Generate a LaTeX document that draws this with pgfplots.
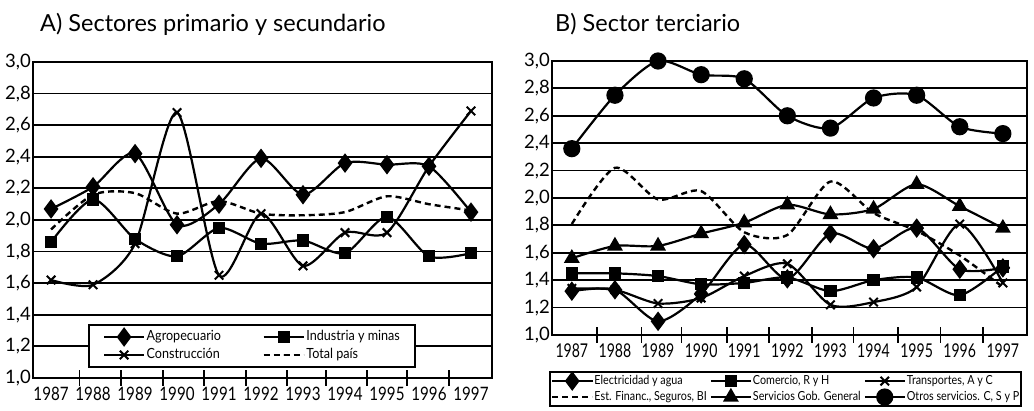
\documentclass[border=0pt]{standalone}
\usepackage{fontspec}
\setmainfont{Lato}
\newfontfamily\yearfont[FakeStretch=0.82]{Lato}
\newfontfamily\yearfontB[FakeStretch=0.74]{Lato}
\newfontfamily\legfont[FakeStretch=0.9]{Lato}
\newfontfamily\legfontB[FakeStretch=0.86]{Lato}
\usepackage{pgfplots}
\pgfplotsset{compat=1.18}
\pgfplotsset{
  legend image code/.code={\draw[mark repeat=2,mark phase=2,#1] plot coordinates {(0pt,0pt) (20pt,0pt) (40pt,0pt)};},
  panel/.style={
    scale only axis, anchor=south west, clip=false,
    axis line style={line width=1.8pt},
    ymin=1, ymax=3,
    ytick={1,1.2,1.4,1.6,1.8,2,2.2,2.4,2.6,2.8,3},
    yticklabels={{1,0},{1,2},{1,4},{1,6},{1,8},{2,0},{2,2},{2,4},{2,6},{2,8},{3,0}},
    yticklabel style={font=\fontsize{18.5}{18.5}\selectfont, inner sep=2pt},
    xtick={1987,...,1997},
    xticklabels={1987,1988,1989,1990,1991,1992,1993,1994,1995,1996,1997},
    xtick pos=bottom, ytick pos=left,
    major tick length=0pt, minor tick length=16pt, tick align=center,
    tick style={line width=1.5pt, black},
    ymajorgrids, major grid style={line width=1.8pt, black},
    every axis plot/.append style={line width=2.2pt, black, smooth, tension=0.45},
  },
}
\begin{document}
\begin{tikzpicture}
\useasboundingbox (0,0) rectangle (1034pt,411pt);
\node[anchor=base west, font=\fontsize{23.5}{27}\selectfont, inner sep=0pt] at (40pt,379pt) {A) Sectores primario y secundario};
\node[anchor=base west, font=\fontsize{23.5}{27}\selectfont, inner sep=0pt] at (555pt,379pt) {B) Sector terciario};

\begin{axis}[panel, at={(33pt,33pt)}, width=459pt, height=316pt,
  xmin=1986.57, xmax=1997.5,
  xticklabel style={font=\yearfont\fontsize{18.5}{18.5}\selectfont, inner sep=0pt, anchor=north, yshift=-9pt},
  minor xtick={1987.68,1988.66,1989.66,1990.64,1991.64,1992.62,1993.55,1994.52,1995.48,1996.48},
  legend columns=2,
  legend style={at={(0.12,0.032)}, anchor=south west, draw=black, line width=1.8pt, fill=white,
    font=\legfont\fontsize{14}{14}\selectfont, inner xsep=14pt, inner ysep=3pt,
    nodes={inner sep=1.5pt, text height=11pt, text depth=4pt},
    cells={anchor=west},
    /tikz/every even column/.append style={column sep=40pt}},
]
\addplot[mark=diamond*, mark size=8pt, mark options={solid, fill=black}] coordinates {
(1987,2.07) (1988,2.21) (1989,2.42) (1990,1.97) (1991,2.10) (1992,2.39) (1993,2.16) (1994,2.36) (1995,2.35) (1996,2.34) (1997,2.05)};
\addlegendentry{Agropecuario}
\addplot[mark=square*, mark size=5pt, mark options={solid, fill=black}] coordinates {
(1987,1.86) (1988,2.13) (1989,1.88) (1990,1.77) (1991,1.95) (1992,1.85) (1993,1.87) (1994,1.79) (1995,2.02) (1996,1.77) (1997,1.79)};
\addlegendentry{Industria y minas}
\addplot[mark=x, mark size=6pt, mark options={solid, line width=2pt}] coordinates {
(1987,1.62) (1988,1.59) (1989,1.85) (1990,2.68) (1991,1.65) (1992,2.04) (1993,1.71) (1994,1.92) (1995,1.92) (1996,2.34) (1997,2.69)};
\addlegendentry{Construcción}
\addplot[dash pattern=on 6pt off 4pt, line width=2.4pt] coordinates {
(1987,1.94) (1988,2.16) (1989,2.17) (1990,2.04) (1991,2.12) (1992,2.04) (1993,2.03) (1994,2.05) (1995,2.15) (1996,2.10) (1997,2.06)};
\addlegendentry{Total país}
\end{axis}

\begin{axis}[panel, at={(552pt,76pt)}, width=475pt, height=274pt,
  xmin=1986.54, xmax=1997.56,
  xticklabel style={font=\yearfontB\fontsize{19}{19}\selectfont, inner sep=0pt, anchor=north, yshift=-9pt},
  minor xtick={1987.58,1988.62,1989.54,1990.6,1991.57,1992.57,1993.54,1994.57,1995.55,1996.54},
  legend columns=3,
  legend style={at={(-0.006,-0.132)}, anchor=north west, draw=black, line width=1.8pt, fill=white,
    font=\legfontB\fontsize{12.5}{12.5}\selectfont, inner xsep=1pt, inner ysep=1pt,
    nodes={inner sep=1pt, text height=10pt, text depth=4pt},
    cells={anchor=west},
    /tikz/every even column/.append style={column sep=2pt}},
]
\addplot[mark=diamond*, mark size=8pt, mark options={solid, fill=black}] coordinates {
(1987,1.32) (1988,1.33) (1989,1.10) (1990,1.30) (1991,1.66) (1992,1.41) (1993,1.74) (1994,1.63) (1995,1.78) (1996,1.48) (1997,1.49)};
\addlegendentry{Electricidad y agua}
\addplot[mark=square*, mark size=5pt, mark options={solid, fill=black}] coordinates {
(1987,1.45) (1988,1.45) (1989,1.43) (1990,1.37) (1991,1.38) (1992,1.42) (1993,1.32) (1994,1.40) (1995,1.42) (1996,1.29) (1997,1.50)};
\addlegendentry{Comercio, R y H}
\addplot[mark=x, mark size=6pt, mark options={solid, line width=2pt}] coordinates {
(1987,1.34) (1988,1.33) (1989,1.23) (1990,1.27) (1991,1.43) (1992,1.52) (1993,1.22) (1994,1.24) (1995,1.35) (1996,1.81) (1997,1.38)};
\addlegendentry{Transportes, A y C}
\addplot[dash pattern=on 6pt off 4pt, line width=2.4pt] coordinates {
(1987,1.81) (1988,2.22) (1989,1.99) (1990,2.05) (1991,1.75) (1992,1.73) (1993,2.12) (1994,1.89) (1995,1.76) (1996,1.58) (1997,1.35)};
\addlegendentry{Est. Financ., Seguros, BI}
\addplot[mark=triangle*, mark size=7pt, mark options={solid, fill=black}] coordinates {
(1987,1.56) (1988,1.65) (1989,1.65) (1990,1.74) (1991,1.82) (1992,1.95) (1993,1.88) (1994,1.92) (1995,2.10) (1996,1.94) (1997,1.78)};
\addlegendentry{Servicios Gob. General}
\addplot[mark=*, mark size=7.5pt, mark options={solid, fill=black}] coordinates {
(1987,2.36) (1988,2.75) (1989,3.00) (1990,2.90) (1991,2.87) (1992,2.60) (1993,2.51) (1994,2.73) (1995,2.75) (1996,2.52) (1997,2.47)};
\addlegendentry{Otros servicios. C, S y P}
\end{axis}
\end{tikzpicture}
\end{document}
